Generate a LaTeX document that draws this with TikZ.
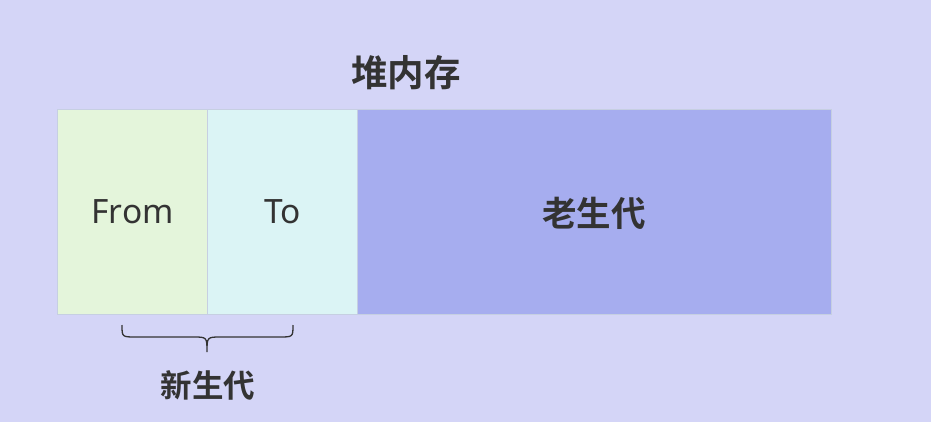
\documentclass[tikz,border=0pt]{standalone}
\usepackage{fontspec}
\setmainfont{Noto Sans}
\newfontfamily\cjk{Noto Sans CJK SC}
\newfontfamily\cjkb{Noto Sans CJK SC Bold}
\definecolor{bg}{HTML}{D4D5F7}
\definecolor{fromc}{HTML}{E4F5DB}
\definecolor{toc}{HTML}{DBF4F5}
\definecolor{oldc}{HTML}{A6ADEF}
\definecolor{edge}{HTML}{C6CFE2}
\definecolor{txt}{HTML}{333333}
\begin{document}
\begin{tikzpicture}[x=1pt,y=-1pt,
  region/.style={draw=edge,line width=1.2pt,inner sep=0pt,anchor=north west},
  label/.style={text=txt,inner sep=0pt}]
\fill[bg] (0,0) rectangle (931,422);
\useasboundingbox (0,0) rectangle (931,422);
\node[region,fill=fromc,minimum width=150pt,minimum height=205pt] (from) at (57,109) {};
\node[region,fill=toc,minimum width=150pt,minimum height=205pt] (to) at (207,109) {};
\node[region,fill=oldc,minimum width=474pt,minimum height=205pt] (old) at (357,109) {};
\node[label,font=\fontsize{33.5}{35}\selectfont] at (from.center) {From};
\node[label,font=\fontsize{33.5}{35}\selectfont] at (to.center) {To};
\node[label,font=\cjkb\fontsize{34.5}{36}\selectfont] (oldt) at (594,213) {老生代};
\node[label,font=\cjkb\fontsize{36.5}{38}\selectfont] (title) at (406,73) {堆内存};
\coordinate (bl) at (122,325);
\coordinate (br) at (293,325);
\coordinate (bt) at (207,352);
\draw[txt,line width=1.3pt] (bl) .. controls (122,337) .. (136,337) -- (193,337)
  .. controls (207,337) .. (bt) .. controls (207,337) .. (221,337) -- (279,337)
  .. controls (293,337) .. (br);
\node[label,font=\cjkb\fontsize{31.5}{33}\selectfont] (young) at (208,385) {新生代};
\end{tikzpicture}
\end{document}
